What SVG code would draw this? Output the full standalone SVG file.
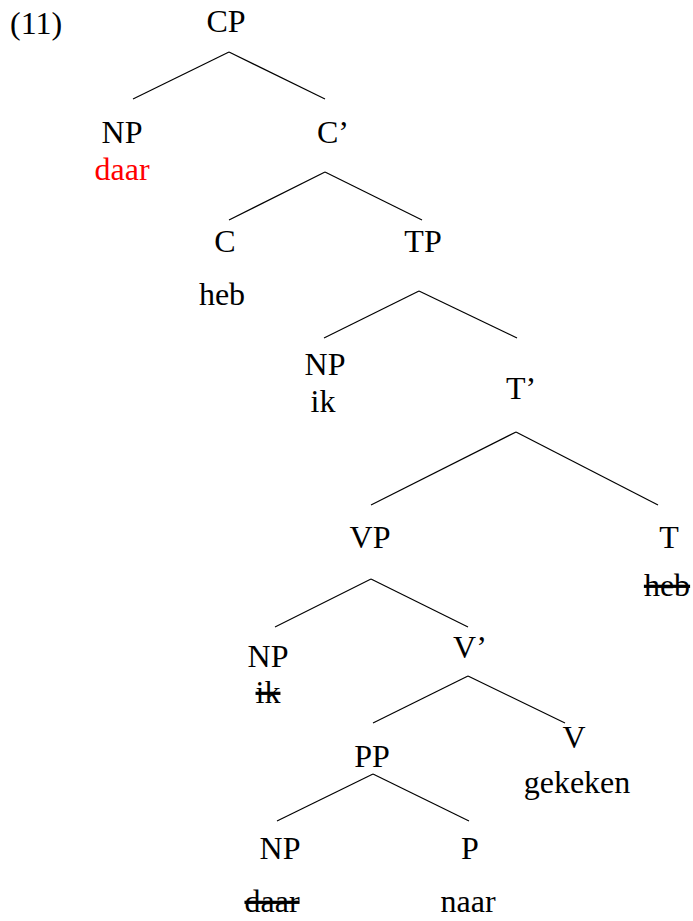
<svg xmlns="http://www.w3.org/2000/svg" width="693" height="921" viewBox="0 0 693 921">
<style>
text{font-family:"Liberation Serif","Times New Roman",serif;font-size:32px;fill:#000;text-anchor:middle}
.s{text-decoration:line-through}
.red{fill:#ff0000}
line{stroke:#000;stroke-width:1.2}
</style>
<rect width="693" height="921" fill="#fff"/>
<text x="10" y="34" style="text-anchor:start">(11)</text>
<g id="connectors">
<line x1="229" y1="52" x2="133" y2="99"/><line x1="229" y1="52" x2="325" y2="99"/>
<line x1="325" y1="172" x2="229" y2="220"/><line x1="325" y1="172" x2="422" y2="220"/>
<line x1="419" y1="291" x2="324" y2="338"/><line x1="419" y1="291" x2="517" y2="338"/>
<line x1="516" y1="432" x2="371" y2="505"/><line x1="516" y1="432" x2="658" y2="505"/>
<line x1="371" y1="579" x2="275" y2="627"/><line x1="371" y1="579" x2="468" y2="627"/>
<line x1="468" y1="676" x2="373" y2="723"/><line x1="468" y1="676" x2="565" y2="723"/>
<line x1="373" y1="774" x2="277" y2="821"/><line x1="373" y1="774" x2="469" y2="821"/>
</g>
<g id="CP"><text x="226" y="32">CP</text></g>
<g id="NP1"><text x="122" y="143">NP</text><text x="122" y="180" class="red">daar</text></g>
<g id="Cbar"><text x="333" y="143">C’</text></g>
<g id="C"><text x="225" y="252">C</text><text x="222" y="305">heb</text></g>
<g id="TP"><text x="423" y="252">TP</text></g>
<g id="NP2"><text x="325" y="375">NP</text><text x="323" y="412">ik</text></g>
<g id="Tbar"><text x="521" y="399">T’</text></g>
<g id="VP"><text x="370" y="548">VP</text></g>
<g id="T"><text x="669" y="548">T</text><text x="667" y="596" class="s">heb</text></g>
<g id="NP3"><text x="268" y="667">NP</text><text x="268" y="703" class="s">ik</text></g>
<g id="Vbar"><text x="470" y="658">V’</text></g>
<g id="PP"><text x="372" y="767">PP</text></g>
<g id="V"><text x="574" y="748">V</text><text x="577" y="793">gekeken</text></g>
<g id="NP4"><text x="280" y="859">NP</text><text x="272" y="912" class="s">daar</text></g>
<g id="P"><text x="470" y="859">P</text><text x="468" y="912">naar</text></g>
</svg>
